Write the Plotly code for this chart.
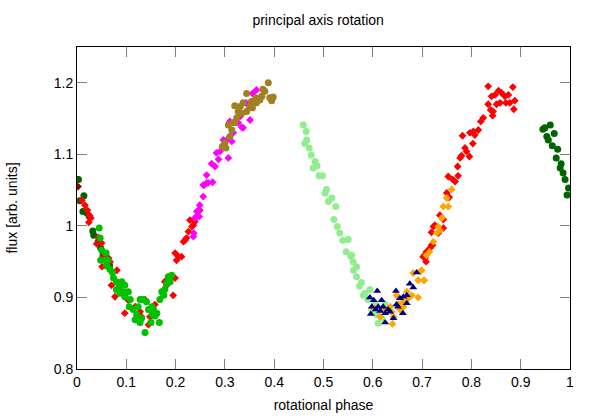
import plotly.graph_objects as go

# dark green circles (wrapped: start and end of the phase)
dkgreen_x = [0.003, 0.006, 0.012, 0.014, 0.020, 0.025, 0.032, 0.034, 0.043, 0.048, 0.053, 0.059, 0.066,
             0.945, 0.949, 0.953, 0.956, 0.960, 0.964, 0.968, 0.972, 0.975, 0.980, 0.982, 0.986, 0.990,
             0.994, 0.997]
dkgreen_y = [1.065, 1.035, 1.020, 1.042, 1.018, 1.013, 0.993, 0.987, 0.978, 0.969, 0.959, 0.955, 0.945,
             1.135, 1.137, 1.125, 1.120, 1.141, 1.112, 1.129, 1.095, 1.107, 1.081, 1.087, 1.074, 1.065,
             1.043, 1.053]

dkred_x = [0.002]
dkred_y = [1.055]

red_x = [0.010, 0.016, 0.021, 0.025, 0.028, 0.024, 0.043, 0.050, 0.040, 0.053, 0.064, 0.067, 0.051,
         0.081, 0.070, 0.077, 0.087, 0.104, 0.097, 0.118, 0.128, 0.145, 0.148, 0.131, 0.138, 0.158,
         0.182, 0.195, 0.199, 0.178, 0.199, 0.206, 0.202, 0.212, 0.216, 0.219, 0.222, 0.226, 0.233,
         0.236, 0.229, 0.239, 0.249,
         0.702, 0.706, 0.708, 0.709, 0.709, 0.716, 0.719, 0.719, 0.721, 0.723, 0.726, 0.733, 0.736,
         0.743, 0.743, 0.750, 0.755, 0.753, 0.762, 0.767, 0.773, 0.772, 0.777, 0.780, 0.782, 0.787,
         0.790, 0.796, 0.797, 0.803, 0.804, 0.807, 0.814, 0.819, 0.824, 0.834, 0.834, 0.839, 0.841,
         0.843, 0.844, 0.848, 0.851, 0.855, 0.858, 0.861, 0.868, 0.870, 0.875, 0.878, 0.884, 0.886,
         0.888]
red_y = [1.036, 1.029, 1.022, 1.015, 1.011, 1.005, 0.984, 0.976, 0.975, 0.957, 0.955, 0.950, 0.943,
         0.938, 0.917, 0.901, 0.908, 0.896, 0.878, 0.887, 0.880, 0.862, 0.873, 0.873, 0.897, 0.890,
         0.917, 0.903, 0.927, 0.922, 0.962, 0.957, 0.952, 0.957, 0.978, 0.980, 0.983, 0.992, 0.999,
         1.001, 1.008, 1.006, 1.022,
         0.957, 0.955, 0.950, 0.964, 0.962, 0.969, 0.991, 0.973, 0.973, 0.999, 1.001, 0.990, 1.015,
         1.009, 0.997, 1.046, 1.040, 1.069, 1.065, 1.062, 1.070, 1.083, 1.095, 1.098, 1.126, 1.109,
         1.104, 1.097, 1.130, 1.115, 1.132, 1.127, 1.134, 1.146, 1.151, 1.195, 1.170, 1.162, 1.181,
         1.154, 1.160, 1.183, 1.170, 1.189, 1.172, 1.186, 1.181, 1.172, 1.183, 1.172, 1.194, 1.163,
         1.175]

green_x = [0.045, 0.047, 0.050, 0.059, 0.048, 0.057, 0.063, 0.060, 0.067, 0.072, 0.074, 0.080, 0.091,
           0.097, 0.086, 0.080, 0.094, 0.087, 0.104, 0.097, 0.108, 0.106, 0.114, 0.124, 0.121, 0.118,
           0.128, 0.134, 0.141, 0.145, 0.152, 0.155, 0.162, 0.158, 0.138, 0.131, 0.167, 0.168, 0.172,
           0.178, 0.182, 0.189, 0.185, 0.192, 0.176, 0.150, 0.153, 0.128]
green_y = [0.997, 0.983, 0.966, 0.962, 0.952, 0.952, 0.952, 0.944, 0.939, 0.935, 0.927, 0.922, 0.922,
           0.917, 0.915, 0.911, 0.908, 0.906, 0.908, 0.901, 0.897, 0.887, 0.883, 0.887, 0.876, 0.869,
           0.865, 0.897, 0.894, 0.883, 0.887, 0.883, 0.878, 0.874, 0.851, 0.871, 0.865, 0.897, 0.908,
           0.911, 0.920, 0.922, 0.929, 0.931, 0.903, 0.865, 0.876, 0.897]

magenta_x = [0.236, 0.237, 0.239, 0.243, 0.243, 0.246, 0.248, 0.249, 0.256, 0.256, 0.258, 0.263, 0.263,
             0.266, 0.275, 0.273, 0.280, 0.283, 0.290, 0.287, 0.295, 0.304, 0.297, 0.307, 0.314, 0.317,
             0.310, 0.320, 0.327, 0.334, 0.337, 0.331, 0.344, 0.351, 0.347, 0.358, 0.364, 0.356, 0.343]
magenta_y = [0.985, 0.990, 1.011, 1.013, 1.020, 1.022, 1.013, 1.029, 1.041, 1.057, 1.057, 1.060, 1.071,
             1.060, 1.061, 1.087, 1.083, 1.102, 1.104, 1.093, 1.111, 1.120, 1.120, 1.095, 1.118, 1.130,
             1.146, 1.146, 1.144, 1.138, 1.137, 1.153, 1.160, 1.148, 1.169, 1.174, 1.190, 1.185, 1.172]

olive_x = [0.388, 0.377, 0.381, 0.391, 0.398, 0.395, 0.375, 0.371, 0.363, 0.364, 0.354, 0.344, 0.337,
           0.351, 0.356, 0.331, 0.320, 0.327, 0.344, 0.334, 0.324, 0.317, 0.307, 0.320, 0.314, 0.310,
           0.300, 0.302, 0.295]
olive_y = [1.200, 1.191, 1.188, 1.179, 1.180, 1.175, 1.181, 1.176, 1.179, 1.172, 1.174, 1.185, 1.172,
           1.167, 1.165, 1.167, 1.168, 1.160, 1.160, 1.157, 1.151, 1.144, 1.141, 1.144, 1.134, 1.125,
           1.116, 1.109, 1.111]

ltgreen_x = [0.459, 0.465, 0.466, 0.462, 0.471, 0.475, 0.483, 0.479, 0.487, 0.491, 0.498, 0.506, 0.503,
             0.517, 0.510, 0.525, 0.521, 0.528, 0.533, 0.539, 0.550, 0.546, 0.555, 0.557, 0.560, 0.567,
             0.561, 0.567, 0.577, 0.573, 0.584, 0.581, 0.590, 0.594, 0.598, 0.608, 0.618, 0.611, 0.621,
             0.625, 0.604]
ltgreen_y = [1.141, 1.132, 1.120, 1.115, 1.109, 1.099, 1.090, 1.081, 1.084, 1.070, 1.070, 1.051, 1.046,
             1.039, 1.034, 1.027, 1.009, 0.999, 0.990, 0.980, 0.981, 0.964, 0.958, 0.959, 0.950, 0.943,
             0.938, 0.929, 0.921, 0.916, 0.906, 0.903, 0.897, 0.911, 0.883, 0.876, 0.871, 0.864, 0.883,
             0.890, 0.892]

navy_x = [0.609, 0.594, 0.602, 0.618, 0.598, 0.611, 0.621, 0.606, 0.615, 0.631, 0.596, 0.625, 0.635,
          0.647, 0.655, 0.661, 0.651, 0.669, 0.675, 0.682, 0.669, 0.689, 0.625, 0.642, 0.648, 0.662]
navy_y = [0.909, 0.900, 0.896, 0.896, 0.887, 0.887, 0.887, 0.883, 0.881, 0.883, 0.877, 0.878, 0.880,
          0.909, 0.899, 0.878, 0.887, 0.892, 0.919, 0.914, 0.903, 0.935, 0.865, 0.871, 0.890, 0.901]

orange_x = [0.682, 0.696, 0.692, 0.704, 0.669, 0.679, 0.692, 0.672, 0.662, 0.648, 0.652, 0.635, 0.628,
            0.638, 0.655, 0.642, 0.640, 0.621, 0.615, 0.602, 0.662, 0.699, 0.704, 0.709, 0.715, 0.723,
            0.730, 0.733, 0.740, 0.743, 0.753, 0.750, 0.760, 0.736]
orange_y = [0.934, 0.936, 0.924, 0.924, 0.908, 0.903, 0.900, 0.899, 0.894, 0.903, 0.891, 0.887, 0.883,
            0.880, 0.883, 0.873, 0.863, 0.883, 0.873, 0.885, 0.887, 0.938, 0.924, 0.959, 0.964, 0.978,
            0.990, 0.999, 1.011, 1.027, 1.027, 1.039, 1.051, 0.994]

x_ticks = [0, 0.1, 0.2, 0.3, 0.4, 0.5, 0.6, 0.7, 0.8, 0.9, 1]
x_labels = ["0", "0.1", "0.2", "0.3", "0.4", "0.5", "0.6", "0.7", "0.8", "0.9", "1"]
y_ticks = [0.8, 0.9, 1.0, 1.1, 1.2]
y_labels = ["0.8", "0.9", "1", "1.1", "1.2"]

fig = go.Figure()

# orden de dibujo: lo último queda encima
series = [
    (ltgreen_x, ltgreen_y, "#90ee90", "circle", 7),
    (dkgreen_x, dkgreen_y, "#006400", "circle", 7),
    (red_x, red_y, "#ff0000", "diamond", 6),
    (green_x, green_y, "#00c000", "circle", 7),
    (magenta_x, magenta_y, "#ff00ff", "diamond", 6),
    (olive_x, olive_y, "#a08020", "circle", 7),
    (orange_x, orange_y, "#ffa500", "diamond", 6),
    (navy_x, navy_y, "#000080", "triangle-up", 7),
    (dkred_x, dkred_y, "#8b0000", "diamond", 6),
]

for xs, ys, color, symbol, size in series:
    fig.add_trace(
        go.Scatter(
            x=xs,
            y=ys,
            mode="markers",
            marker=dict(color=color, symbol=symbol, size=size, line_width=0),
            showlegend=False,
            hoverinfo="skip",
        )
    )

axis_style = dict(
    showline=True,
    linecolor="#000000",
    linewidth=1,
    mirror="allticks",
    ticks="inside",
    ticklen=10,
    tickcolor="#808080",
    tickwidth=1,
    showgrid=False,
    zeroline=False,
    tickfont=dict(size=14, color="#000000"),
)

fig.update_xaxes(
    range=[0, 1],
    tickvals=x_ticks,
    ticktext=x_labels,
    title=dict(text="rotational phase", font=dict(size=14, color="#000000"), standoff=11),
    **axis_style,
)
fig.update_yaxes(
    range=[0.8, 1.25],
    tickvals=y_ticks,
    ticktext=y_labels,
    title=dict(text="flux [arb. units]", font=dict(size=14, color="#000000"), standoff=32),
    **axis_style,
)

fig.update_layout(
    width=598,
    height=419,
    margin=dict(l=77, r=28, t=47, b=50, autoexpand=False),
    paper_bgcolor="#ffffff",
    plot_bgcolor="#ffffff",
    font_family="Liberation Sans, Arial, sans-serif",
    title=dict(
        text="principal axis rotation",
        x=0.532,
        xanchor="center",
        y=0.952,
        yanchor="middle",
        font=dict(size=14, color="#000000"),
    ),
)

# quitamos el margen por defecto del <body>
fig.write_html(
    "out.html",
    config={"displayModeBar": False},
    post_script="document.body.style.margin='0';",
)
